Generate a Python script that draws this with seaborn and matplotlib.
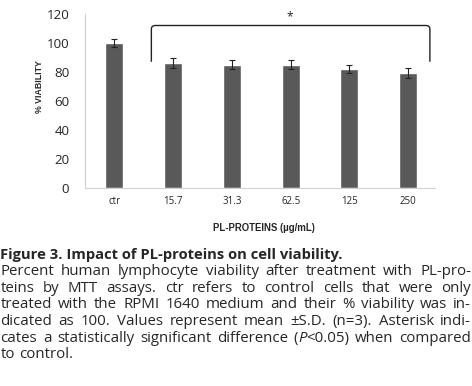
import numpy as np
import pandas as pd
import matplotlib
matplotlib.use('Agg')
import matplotlib.pyplot as plt
import seaborn as sns
from matplotlib.path import Path
from matplotlib.patches import PathPatch

# data
categories = ['ctr', '15.7', '31.3', '62.5', '125', '250']
viability = [100, 86, 85, 85, 82, 79]
sd = [3, 3.5, 3, 3, 3, 3.5]

df = pd.DataFrame({'conc': categories, 'viability': viability})

sns.set_style('white')
plt.rcParams['font.family'] = ['Open Sans', 'DejaVu Sans']

fig = plt.figure(figsize=(4.72, 3.86), dpi=100)
renderer = fig.canvas.get_renderer()
W = fig.bbox.width


def text_width(txt, size, **kw):
    t = fig.text(0, 0, txt, fontsize=size, **kw)
    w = t.get_window_extent(renderer).width
    t.remove()
    return w


def fit_size(txt, target, **kw):
    # font size giving the measured pixel width in the reference
    return 10 * target / text_width(txt, 10, **kw)


ax = fig.add_axes([0.180, 0.513, 0.742, 0.451])

sns.barplot(data=df, x='conc', y='viability', color='#595959', saturation=1,
            width=0.31, errorbar=None, ax=ax)
ax.errorbar(np.arange(len(categories)), viability, yerr=sd, fmt='none',
            ecolor='#222222', elinewidth=0.8, capsize=2.2, capthick=0.8)

ax.set_ylim(0, 120)
ax.set_xlim(-0.5, 5.46)
ax.set_yticks(range(0, 121, 20))
ysize = fit_size('120', 23)
xsize = fit_size('15.7', 19.3)
ax.tick_params(axis='y', labelsize=ysize, length=0, pad=11.3)
ax.tick_params(axis='x', labelsize=xsize, length=0, pad=6)
for s in ['top', 'right']:
    ax.spines[s].set_visible(False)
for s in ['left', 'bottom']:
    ax.spines[s].set_color('#d0d0d0')
    ax.spines[s].set_linewidth(0.8)

lab_kw = dict(fontweight='bold', family=['Liberation Sans'])
ax.set_xlabel('PL-PROTEINS (µg/mL)', fontsize=fit_size('PL-PROTEINS (µg/mL)', 102, **lab_kw), **lab_kw)
ax.set_ylabel('% VIABILITY', fontsize=fit_size('% VIABILITY', 52.6, **lab_kw), **lab_kw)
ax.xaxis.set_label_coords((264 - 85) / 350, (188 - 228) / 174)
ax.xaxis.label.set_va('center')
ax.yaxis.set_label_coords((40 - 85) / 350, (188 - 87) / 174)
ax.yaxis.label.set_va('center')

# significance bracket with rounded corners
x0, x1, yb, yt, r = 0.63, 5.37, 87, 112, 0.07
verts = [(x0, yb), (x0, yt - 2.5), (x0, yt), (x0 + r, yt),
         (x1 - r, yt), (x1, yt), (x1, yt - 2.5), (x1, yb)]
codes = [Path.MOVETO, Path.LINETO, Path.CURVE3, Path.CURVE3,
         Path.LINETO, Path.CURVE3, Path.CURVE3, Path.LINETO]
ax.add_patch(PathPatch(Path(verts, codes), fill=False, lw=1.0,
                       edgecolor='#222222', clip_on=False))
ax.text(2.98, 113.5, '*', ha='center', va='bottom', fontsize=8.5, color='#222222')

# caption
title = 'Figure 3. Impact of PL-proteins on cell viability.'
tsize = fit_size(title, 345, fontweight='bold')
fig.text(0.0, 1 - 255 / 386, title, fontsize=tsize, fontweight='bold',
         va='center', ha='left')

caption = [
    [['Percent'], ['human'], ['lymphocyte'], ['viability'], ['after'], ['treatment'],
     ['with'], ['PL-pro-']],
    [['teins'], ['by'], ['MTT'], ['assays.'], ['ctr'], ['refers'], ['to'], ['control'],
     ['cells'], ['that'], ['were'], ['only']],
    [['treated'], ['with'], ['the'], ['RPMI'], ['1640'], ['medium'], ['and'], ['their'],
     ['%'], ['viability'], ['was'], ['in-']],
    [['dicated'], ['as'], ['100.'], ['Values'], ['represent'], ['mean'], ['±S.D.'],
     ['(n=3).'], ['Asterisk'], ['indi-']],
    [['cates'], ['a'], ['statistically'], ['significant'], ['difference'],
     ['(', 'P', '<0.05)'], ['when'], ['compared']],
    [['to'], ['control.']],
]

fs = fit_size('to control.', 71.7)
left_px, right_px = 0.5, W - 1.0


def is_italic(word, j):
    return j == 1 and len(word) == 3


for i, line in enumerate(caption):
    ycen = 1 - (271.7 + i * 16.65) / 386
    widths = []
    for word in line:
        widths.append([text_width(s, fs, style='italic' if is_italic(word, j) else 'normal')
                       for j, s in enumerate(word)])
    totals = [sum(w) for w in widths]
    if i < len(caption) - 1:
        gap = (right_px - left_px - sum(totals)) / (len(line) - 1)
    else:
        gap = text_width('a a', fs) - 2 * text_width('a', fs)
    x = left_px
    for word, ws in zip(line, widths):
        xs = x
        for j, (s, w) in enumerate(zip(word, ws)):
            fig.text(xs / W, ycen, s, fontsize=fs, va='center', ha='left',
                     style='italic' if is_italic(word, j) else 'normal')
            xs += w
        x += sum(ws) + gap

fig.savefig('out.png', dpi=100)
